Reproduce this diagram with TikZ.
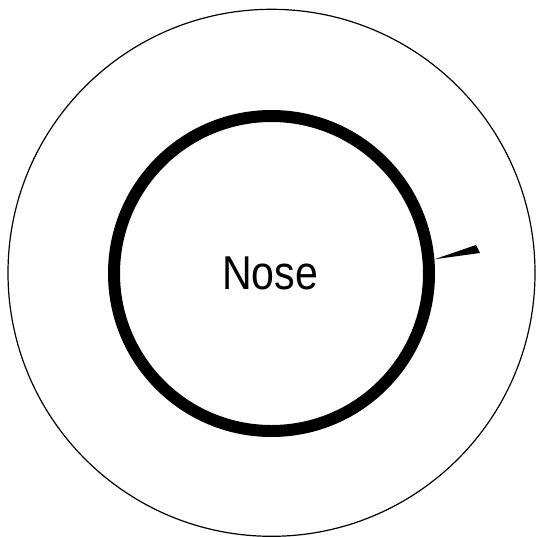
\documentclass[tikz,border=0pt]{standalone}
\usepackage{fontspec}
\setmainfont{Liberation Sans}
\begin{document}
\begin{tikzpicture}[x=1pt,y=-1pt,
  ring/.style={circle, draw=black, inner sep=0pt},
  wedgefill/.style={fill=black}]
\useasboundingbox (0,0) rectangle (537,536);
\node[ring, line width=1.2pt, minimum size=527pt] (outer) at (271.5,272.8) {};
\node[ring, line width=12pt, minimum size=315pt] (inner) at (271.5,273.5) {};
\node[xscale=0.865] (label) at (270,273) {\fontsize{47.5}{47.5}\selectfont Nose};
\coordinate (w1) at (476,245);
\coordinate (w2) at (480,253);
\fill[wedgefill] (inner.5) -- (w1) -- (w2) -- cycle;
\end{tikzpicture}
\end{document}
